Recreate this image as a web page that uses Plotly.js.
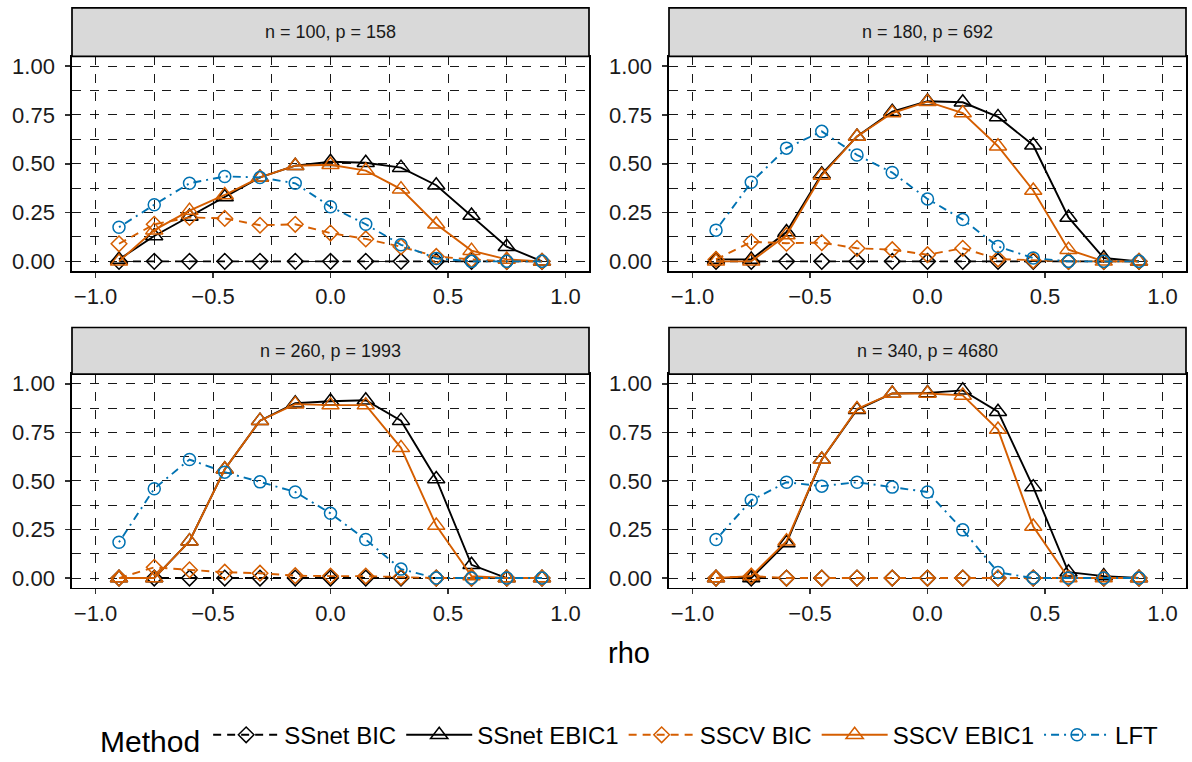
<!DOCTYPE html>
<html>
<head>
<meta charset="utf-8">
<script src="https://cdn.plot.ly/plotly-3.0.1.min.js"></script>
<style>html,body{margin:0;padding:0;background:#fff;}#chart{width:1192px;height:762px;}</style>
</head>
<body>
<div id="chart"></div>
<script>
// ---- data ----
const rho = [-0.9, -0.75, -0.6, -0.45, -0.3, -0.15, 0, 0.15, 0.3, 0.45, 0.6, 0.75, 0.9];
const panelTitles = ["n = 100, p = 158", "n = 180, p = 692", "n = 260, p = 1993", "n = 340, p = 4680"];
const methods = ["SSnet BIC", "SSnet EBIC1", "SSCV BIC", "SSCV EBIC1", "LFT"];

// panel 1: n = 100, p = 158
const ssnetBIC_1   = [0, 0, 0, 0, 0, 0, 0, 0, 0, 0, 0, 0, 0];
const ssnetEBIC1_1 = [0.01, 0.13, 0.23, 0.33, 0.43, 0.49, 0.51, 0.505, 0.48, 0.39, 0.235, 0.075, 0.0];
const sscvBIC_1    = [0.09, 0.19, 0.225, 0.22, 0.185, 0.19, 0.145, 0.115, 0.075, 0.025, 0.01, 0.0, 0.0];
const sscvEBIC1_1  = [0.0, 0.16, 0.26, 0.34, 0.43, 0.49, 0.495, 0.465, 0.37, 0.19, 0.055, 0.01, 0.0];
const lft_1        = [0.175, 0.29, 0.40, 0.435, 0.43, 0.40, 0.28, 0.19, 0.085, 0.015, 0.0, 0.0, 0.0];

// panel 2: n = 180, p = 692
const ssnetBIC_2   = [0, 0, 0, 0, 0, 0, 0, 0, 0, 0, 0, 0, 0];
const ssnetEBIC1_2 = [0.01, 0.01, 0.15, 0.447, 0.64, 0.767, 0.82, 0.815, 0.74, 0.595, 0.225, 0.017, 0.0];
const sscvBIC_2    = [0.01, 0.10, 0.093, 0.096, 0.067, 0.06, 0.034, 0.067, 0.012, 0.005, 0.0, 0.0, 0.0];
const sscvEBIC1_2  = [0.0, 0.0, 0.135, 0.44, 0.64, 0.76, 0.818, 0.76, 0.59, 0.363, 0.06, 0.0, 0.0];
const lft_2        = [0.16, 0.405, 0.58, 0.666, 0.545, 0.455, 0.32, 0.214, 0.076, 0.017, 0.0, 0.0, 0.0];

// panel 3: n = 260, p = 1993
const ssnetBIC_3   = [0, 0, 0, 0, 0, 0, 0, 0, 0, 0, 0, 0, 0];
const ssnetEBIC1_3 = [0.0, 0.0, 0.19, 0.56, 0.81, 0.90, 0.91, 0.915, 0.81, 0.51, 0.068, 0.0, 0.0];
const sscvBIC_3    = [0.0, 0.055, 0.042, 0.03, 0.025, 0.012, 0.01, 0.01, 0.005, 0.0, 0.0, 0.0, 0.0];
const sscvEBIC1_3  = [0.0, 0.0, 0.19, 0.56, 0.81, 0.895, 0.89, 0.89, 0.67, 0.27, 0.01, 0.0, 0.0];
const lft_3        = [0.184, 0.46, 0.61, 0.545, 0.495, 0.443, 0.333, 0.198, 0.046, 0.0, 0.0, 0.0, 0.0];

// panel 4: n = 340, p = 4680
const ssnetBIC_4   = [0, 0, 0, 0, 0, 0, 0, 0, 0, 0, 0, 0, 0];
const ssnetEBIC1_4 = [0.0, 0.0, 0.18, 0.61, 0.866, 0.95, 0.953, 0.966, 0.856, 0.468, 0.03, 0.01, 0.0];
const sscvBIC_4    = [0.0, 0.01, 0.0, 0.0, 0.0, 0.0, 0.0, 0.0, 0.0, 0.0, 0.0, 0.0, 0.0];
const sscvEBIC1_4  = [0.0, 0.01, 0.19, 0.61, 0.87, 0.95, 0.95, 0.94, 0.764, 0.265, 0.0, 0.0, 0.0];
const lft_4        = [0.198, 0.40, 0.493, 0.473, 0.493, 0.468, 0.443, 0.248, 0.029, 0.0, 0.0, 0.0, 0.0];

const xTicks = [-1, -0.5, 0, 0.5, 1];
const xTickText = ["\u22121.0", "\u22120.5", "0.0", "0.5", "1.0"];
const yTicks = [0, 0.25, 0.5, 0.75, 1];
const yTickText = ["0.00", "0.25", "0.50", "0.75", "1.00"];

// ---- styles ----
const BLACK = "#000000", ORANGE = "#D55E00", BLUE = "#0072B2";
const FONT = "Liberation Sans, Arial, sans-serif";
const styles = [
  {color: BLACK,  dash: "8px,6px",          symbol: "diamond-open",     size: 12},
  {color: BLACK,  dash: "solid",            symbol: "triangle-up-open", size: 15},
  {color: ORANGE, dash: "8px,6px",          symbol: "diamond-open",     size: 12},
  {color: ORANGE, dash: "solid",            symbol: "triangle-up-open", size: 15},
  {color: BLUE,   dash: "2px,5px,8px,5px",  symbol: "circle-open",      size: 12}
];

const panels = [
  [ssnetBIC_1, ssnetEBIC1_1, sscvBIC_1, sscvEBIC1_1, lft_1],
  [ssnetBIC_2, ssnetEBIC1_2, sscvBIC_2, sscvEBIC1_2, lft_2],
  [ssnetBIC_3, ssnetEBIC1_3, sscvBIC_3, sscvEBIC1_3, lft_3],
  [ssnetBIC_4, ssnetEBIC1_4, sscvBIC_4, sscvEBIC1_4, lft_4]
];

const W = 1192, H = 762;
const boxes = [
  {x0: 72,  x1: 589,  y0: 57,  y1: 274},
  {x0: 669, x1: 1186, y0: 57,  y1: 274},
  {x0: 72,  x1: 589,  y0: 378, y1: 594},
  {x0: 669, x1: 1186, y0: 378, y1: 594}
];
const strips = [{y0: 8, y1: 57}, {y0: 8, y1: 57}, {y0: 331, y1: 378}, {y0: 331, y1: 378}];

const traces = [];
panels.forEach((series, p) => {
  const sfx = p === 0 ? "" : String(p + 1);
  series.forEach((vals, m) => {
    const st = styles[m];
    traces.push({
      type: "scatter", mode: "lines+markers",
      x: rho, y: vals,
      xaxis: "x" + sfx, yaxis: "y" + sfx,
      name: methods[m], legendgroup: methods[m], showlegend: p === 0,
      line: {color: st.color, width: 1.9, dash: st.dash},
      marker: {symbol: st.symbol, size: st.size, color: st.color, line: {color: st.color, width: 1.5}},
      hoverinfo: "skip"
    });
  });
});

const gridCommon = {gridcolor: "#000000", griddash: "dash", gridwidth: 0.9};
const tickFont = {family: FONT, size: 22, color: "#1a1a1a"};
function xAxis(box, anchor) {
  return Object.assign({
    domain: [box.x0 / W, box.x1 / W], anchor: anchor,
    range: [-1.1, 1.1], tickmode: "array", tickvals: xTicks, ticktext: xTickText,
    showgrid: true, zeroline: false,
    minor: Object.assign({tickmode: "array", tickvals: [-0.75, -0.25, 0.25, 0.75], showgrid: true, ticks: ""}, gridCommon),
    ticks: "outside", ticklen: 5, tickwidth: 1.6, tickcolor: "#333333",
    showline: true, mirror: true, linecolor: "#000000", linewidth: 1.7,
    tickfont: tickFont, fixedrange: true
  }, gridCommon);
}
function yAxis(box, anchor) {
  return Object.assign({
    domain: [(H - box.y1) / H, (H - box.y0) / H], anchor: anchor,
    range: [-0.05, 1.05], tickmode: "array", tickvals: yTicks, ticktext: yTickText,
    showgrid: true, zeroline: false,
    minor: Object.assign({tickmode: "array", tickvals: [0.125, 0.375, 0.625, 0.875], showgrid: true, ticks: ""}, gridCommon),
    ticks: "outside", ticklen: 5, tickwidth: 1.6, tickcolor: "#333333",
    ticklabelstandoff: 6,
    showline: true, mirror: true, linecolor: "#000000", linewidth: 1.7,
    tickfont: tickFont, fixedrange: true
  }, gridCommon);
}

const layout = {
  width: W, height: H,
  margin: {l: 0, r: 0, t: 0, b: 0},
  paper_bgcolor: "#ffffff", plot_bgcolor: "#ffffff",
  font: {family: FONT, color: "#000000"},
  showlegend: true,
  legend: {
    orientation: "h", x: 0.529, xanchor: "center", y: (H - 745) / H, yanchor: "middle",
    title: {text: "Method", font: {family: FONT, size: 30, color: "#000000"}, side: "left"},
    font: {family: FONT, size: 24, color: "#000000"},
    itemwidth: 66, tracegroupgap: 0, bgcolor: "rgba(0,0,0,0)"
  },
  shapes: [], annotations: []
};

boxes.forEach((box, p) => {
  const sfx = p === 0 ? "" : String(p + 1);
  layout["xaxis" + sfx] = xAxis(box, "y" + sfx);
  layout["yaxis" + sfx] = yAxis(box, "x" + sfx);
  const s = strips[p];
  layout.shapes.push({
    type: "rect", xref: "paper", yref: "paper",
    x0: box.x0 / W, x1: box.x1 / W, y0: (H - s.y1) / H, y1: (H - s.y0) / H,
    fillcolor: "#D9D9D9", line: {color: "#000000", width: 1.7}, layer: "above"
  });
  layout.annotations.push({
    xref: "paper", yref: "paper",
    x: (box.x0 + box.x1) / 2 / W, y: (H - (s.y0 + s.y1) / 2) / H,
    xanchor: "center", yanchor: "middle", showarrow: false,
    text: panelTitles[p], font: {family: FONT, size: 18, color: "#1a1a1a"}
  });
});

layout.annotations.push({
  xref: "paper", yref: "paper", x: 629 / W, y: (H - 660) / H,
  xanchor: "center", yanchor: "middle", showarrow: false,
  text: "rho", font: {family: FONT, size: 29, color: "#000000"}
});

Plotly.newPlot("chart", traces, layout, {staticPlot: true, displayModeBar: false});
</script>
</body>
</html>
